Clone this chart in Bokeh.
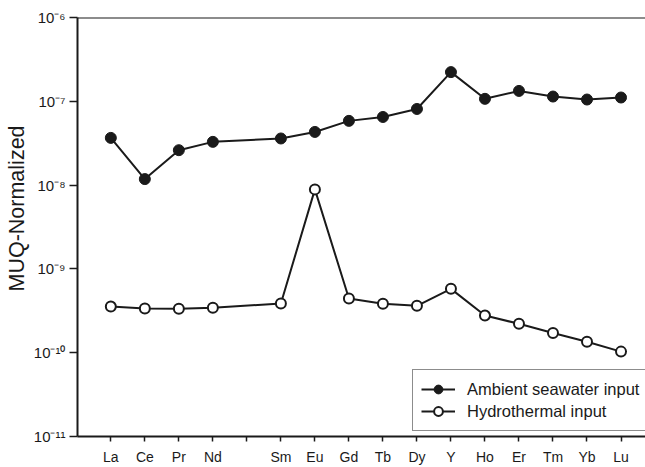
from bokeh.plotting import figure
from bokeh.models import (Range1d, FixedTicker, Span, Legend, LegendItem, Title)
from bokeh.embed import file_html
from bokeh.resources import INLINE

# ---- data ----
axis_elements = ["La", "Ce", "Pr", "Nd", "", "Sm", "Eu", "Gd", "Tb", "Dy",
                 "Y", "Ho", "Er", "Tm", "Yb", "Lu"]
elements = ["La", "Ce", "Pr", "Nd", "Sm", "Eu", "Gd", "Tb", "Dy",
            "Y", "Ho", "Er", "Tm", "Yb", "Lu"]
ambient = [3.66e-8, 1.18e-8, 2.61e-8, 3.28e-8, 3.60e-8, 4.31e-8, 5.84e-8,
           6.50e-8, 8.10e-8, 2.23e-7, 1.07e-7, 1.33e-7, 1.14e-7, 1.05e-7, 1.11e-7]
hydrothermal = [3.55e-10, 3.37e-10, 3.34e-10, 3.43e-10, 3.87e-10, 8.89e-9,
                4.43e-10, 3.83e-10, 3.63e-10, 5.78e-10, 2.78e-10, 2.21e-10,
                1.72e-10, 1.35e-10, 1.03e-10]
ytick_values = [1e-11, 1e-10, 1e-9, 1e-8, 1e-7, 1e-6]
ytick_labels = ["10\u207b\u00b9\u00b9", "10\u207b\u00b9\u2070", "10\u207b\u2079",
                "10\u207b\u2078", "10\u207b\u2077", "10\u207b\u2076"]
series_names = ["Ambient seawater input", "Hydrothermal input"]
y_title = "MUQ-Normalized"

xpos = [axis_elements.index(e) for e in elements]

FONT = "Liberation Sans"
INK = "#1a1a1a"

p = figure(width=645, height=467, y_axis_type="log",
           x_range=Range1d(-0.98, 15.72), y_range=Range1d(1e-11, 1e-6),
           output_backend="svg", toolbar_location=None,
           min_border_left=76, min_border_right=0, min_border_top=17,
           min_border_bottom=30)
p.outline_line_color = None
p.xgrid.visible = False
p.ygrid.visible = False
p.background_fill_color = "white"
p.border_fill_color = "white"

# axes
p.xaxis.ticker = FixedTicker(ticks=list(range(len(axis_elements))))
p.xaxis.major_label_overrides = {i: lab for i, lab in enumerate(axis_elements)}
p.yaxis.ticker = FixedTicker(ticks=ytick_values)
p.yaxis.major_label_overrides = {v: lab for v, lab in zip(ytick_values, ytick_labels)}

for ax in (p.xaxis[0], p.yaxis[0]):
    ax.axis_line_width = 2
    ax.axis_line_color = INK
    ax.major_tick_line_width = 1.5
    ax.major_tick_line_color = INK
    ax.major_tick_in = 0
    ax.minor_tick_in = 0
    ax.minor_tick_out = 0
    ax.major_label_text_font = FONT
    ax.major_label_text_color = INK

p.xaxis.major_tick_out = 5
p.xaxis.major_label_standoff = 7
p.xaxis.major_label_text_font_size = "14px"
p.yaxis.major_tick_out = 8
p.yaxis.major_label_standoff = 4
p.yaxis.major_label_text_font_size = "15px"

# y-axis title (slightly above centre as in the reference)
p.add_layout(Title(text=y_title, align="left", offset=145, standoff=4,
                   text_font=FONT, text_font_size="21.5px",
                   text_font_style="normal", text_color=INK), "left")

# top frame line
p.add_layout(Span(location=1e-6, dimension="width", line_color=INK, line_width=2))

# series
l1 = p.line(xpos, ambient, line_color=INK, line_width=2)
s1 = p.scatter(xpos, ambient, marker="circle", size=11,
               fill_color=INK, line_color=INK, line_width=1)
l2 = p.line(xpos, hydrothermal, line_color=INK, line_width=2)
s2 = p.scatter(xpos, hydrothermal, marker="circle", size=10,
               fill_color="white", line_color=INK, line_width=2)

legend = Legend(items=[LegendItem(label=series_names[0], renderers=[l1, s1]),
                       LegendItem(label=series_names[1], renderers=[l2, s2])],
                location=(335, 5), margin=0, padding=8, spacing=0,
                glyph_width=34, glyph_height=22, label_height=22,
                label_width=320, label_standoff=12,
                label_text_font=FONT, label_text_font_size="16.5px",
                label_text_color=INK,
                border_line_color=INK, border_line_width=1.5,
                background_fill_color="white", background_fill_alpha=1)
p.add_layout(legend)

open("out.html", "w").write(file_html(p, INLINE))
